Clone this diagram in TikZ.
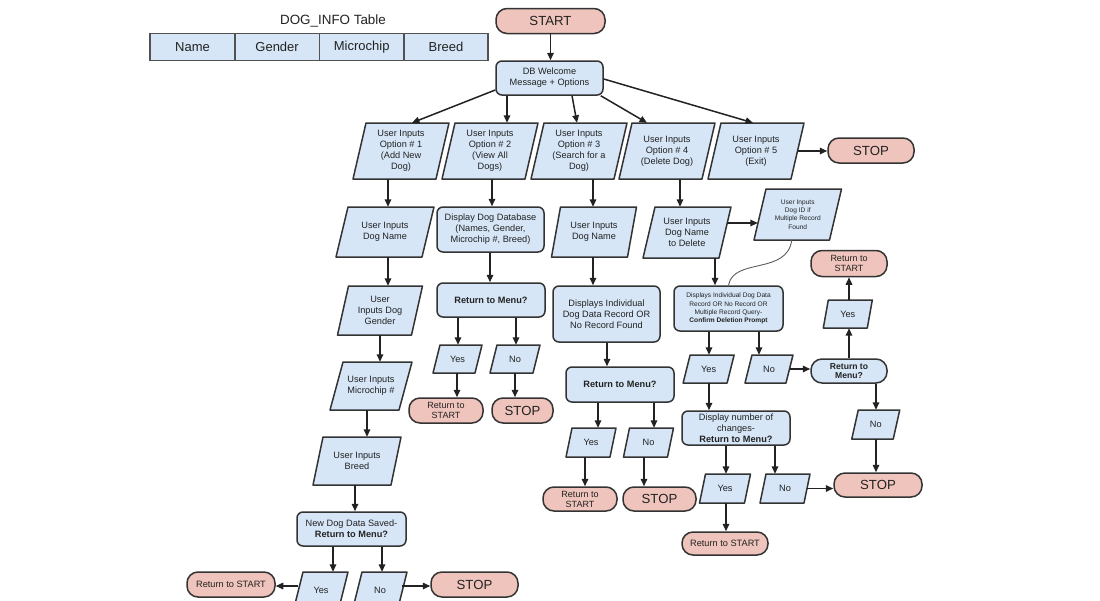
\documentclass[tikz,border=0pt]{standalone}
\usepackage{fontspec}
\setmainfont{Liberation Sans}
\usetikzlibrary{arrows.meta,calc}
\definecolor{boxblue}{HTML}{D6E6F7}
\definecolor{termred}{HTML}{EFC4BC}
\definecolor{edgec}{HTML}{333333}
\definecolor{txt}{HTML}{222222}
\newcommand\pgram[8]{%
  \draw[pshape] ({#2-#4/2-#6/2},{#3+#5/2}) -- ({#2+#4/2-#6/2},{#3+#5/2})
    -- ({#2+#4/2+#6/2},{#3-#5/2}) -- ({#2-#4/2+#6/2},{#3-#5/2}) -- cycle;
  \node[sz={#4}{#5},#7] (#1) at (#2,#3) {#8};}
\begin{document}
\begin{tikzpicture}[x=1pt,y=-1pt,
  every node/.style={font=\fontsize{9.2}{11}\selectfont, text=txt, align=center, inner sep=0pt},
  sz/.style 2 args={minimum width=#1pt,minimum height=#2pt},
  proc/.style={draw=edgec, fill=boxblue, line width=1.5pt, rounded corners=6pt},
  term/.style={draw=edgec, fill=termred, line width=1.5pt, rounded corners=11pt},
  bterm/.style={draw=edgec, fill=boxblue, line width=1.5pt, rounded corners=11pt},
  pshape/.style={draw=edgec, fill=boxblue, line width=1.5pt, line join=round},
  cell/.style={draw=edgec!85, fill=boxblue, line width=1.1pt, font=\fontsize{13}{15}\selectfont},
  big/.style={font=\fontsize{13.2}{15}\selectfont},
  two/.style={font=\fontsize{9}{10}\selectfont},
  small/.style={font=\fontsize{6.6}{8.3}\selectfont},
  arr/.style={draw=txt, line width=1.5pt, -{Triangle[length=7.5pt,width=6.5pt]}},
  link/.style={draw=edgec!80, line width=0.9pt}
]
\useasboundingbox (0,0) rectangle (1100,600);
\clip (0,0) rectangle (1100,600);

% ---- table ----
\node[font=\fontsize{13.4}{15}\selectfont] (ttitle) at (333,21) {DOG\_INFO Table};
\node[cell, sz={85}{26.7}] (cname) at (192.5,46.7) {Name};
\node[cell, sz={84.3}{26.7}] (cgender) at (277.1,46.7) {Gender};
\node[cell, sz={84.7}{26.7}] (cchip) at (361.7,46.7) {Microchip};
\node[cell, sz={84}{26.7}] (cbreed) at (446,46.7) {Breed};

% ---- top ----
\node[term, big, sz={109}{25}] (start) at (550.5,21) {START};
\node[proc, sz={107}{34}] (db) at (549.5,78) {DB Welcome\\Message + Options};

\pgram{opt1}{401}{151}{83}{56}{13}{}{User Inputs\\Option \# 1\\(Add New\\Dog)}
\pgram{opt2}{490}{151}{83}{56}{13}{}{User Inputs\\Option \# 2\\(View All\\Dogs)}
\pgram{opt3}{579}{151}{83}{56}{13}{}{User Inputs\\Option \# 3\\(Search for a\\Dog)}
\pgram{opt4}{667}{151}{83}{56}{13}{}{User Inputs\\Option \# 4\\(Delete Dog)}
\pgram{opt5}{756}{151}{83}{56}{13}{}{User Inputs\\Option \# 5\\(Exit)}
\node[term, big, sz={86}{25}] (stopA) at (871,150.5) {STOP};

% ---- column 1 ----
\pgram{name1}{385}{232}{86}{50}{12}{}{User Inputs\\Dog Name}
\pgram{gender1}{380}{310.5}{74}{49}{11}{}{User\\Inputs Dog\\Gender}
\pgram{chip1}{371}{386}{69}{48}{13}{}{User Inputs\\Microchip \#}
\pgram{breed1}{357}{461}{78}{48}{10}{}{User Inputs\\Breed}
\node[proc, sz={109}{34}] (saved1) at (351.5,529) {New Dog Data Saved-\\\textbf{Return to Menu?}};
\pgram{yes1}{321}{590}{45}{36}{9}{}{Yes}
\pgram{no1}{380}{590}{45}{36}{9}{}{No}
\node[term, sz={88}{25}] (rts1) at (231,584.5) {Return to START};
\node[term, big, sz={87}{25}] (stopB) at (474.5,584.5) {STOP};

% ---- column 2 ----
\node[proc, sz={107}{45}] (disp2) at (490.5,229.5) {Display Dog Database\\(Names, Gender,\\Microchip \#, Breed)};
\node[proc, sz={108}{34}] (rtm2) at (491,300) {\textbf{Return to Menu?}};
\pgram{yes2}{457.5}{359}{42}{28}{7}{}{Yes}
\pgram{no2}{515}{359}{43}{28}{7}{}{No}
\node[term, two, sz={74}{25}] (rts2) at (446,410.5) {Return to\\START};
\node[term, big, sz={61}{25}] (stopC) at (522.5,410.5) {STOP};

% ---- column 3 ----
\pgram{name3}{594}{232}{76}{50}{9}{}{User Inputs\\Dog Name}
\node[proc, sz={107}{56}] (disp3) at (606.5,314) {Displays Individual\\Dog Data Record OR\\No Record Found};
\node[proc, sz={108}{35}] (rtm3) at (620,384.5) {\textbf{Return to Menu?}};
\pgram{yes3}{591}{442.5}{44}{29}{6}{}{Yes}
\pgram{no3}{648.5}{442.5}{44}{29}{6}{}{No}
\node[term, two, sz={74}{24}] (rts3) at (580,499) {Return to\\START};
\node[term, big, sz={73}{24}] (stopD) at (659.5,499) {STOP};

% ---- column 4 ----
\pgram{dnd4}{687}{232.5}{76}{51}{12}{}{User Inputs\\Dog Name\\to Delete}
\pgram{dogid4}{797.75}{214.5}{75.5}{51}{12}{small}{User Inputs\\Dog ID if\\Multiple Record\\Found}
\node[proc, small, sz={109}{45}] (disp4) at (728.5,308.5) {Displays Individual Dog Data\\Record OR No Record OR\\Multiple Record Query-\\\textbf{Confirm Deletion Prompt}};
\pgram{yes4a}{708.6}{369}{44}{28}{7}{}{Yes}
\pgram{no4a}{769}{369}{41}{28}{7}{}{No}
\node[proc, sz={108}{34}] (chg4) at (736,428) {Display number of\\changes-\\\textbf{Return to Menu?}};
\pgram{yes4b}{725}{488.5}{45}{29}{6}{}{Yes}
\pgram{no4b}{785}{488.5}{44}{29}{6}{}{No}
\node[term, sz={86}{23}] (rts4b) at (725,543.5) {Return to START};
\node[term, big, sz={88}{24}] (stopE) at (878,485) {STOP};
\node[bterm, font=\fontsize{8.6}{9.8}\selectfont\bfseries, sz={76}{24}] (rtm4) at (849,371) {Return to\\Menu?};
\pgram{no4r}{875.75}{424.5}{41.5}{29}{6.5}{}{No}
\pgram{yes4r}{847.8}{314}{44}{28}{5}{}{Yes}
\node[term, two, sz={76}{26}] (rts4r) at (849,263.5) {Return to\\START};

% ---- connectors: top ----
\draw[arr] (start.south) -- (start.south |- db.north);
\draw[arr] ([shift={(0,12)}]db.west) -- ([shift={(11,0)}]opt1.north);
\draw[arr] ([shift={(-42.5,0)}]db.south) -- ([shift={(17,0)}]opt2.north);
\draw[arr] ([shift={(22.5,0)}]db.south) -- ([shift={(-2,0)}]opt3.north);
\draw[arr] ([shift={(-3,0)}]db.south east) -- ([shift={(-20,0)}]opt4.north);
\draw[arr] ([shift={(0,1)}]db.east) -- ([shift={(-3,0)}]opt5.north);
\draw[arr] (opt5.east) -- (opt5.east -| stopA.west);

% ---- column 1 ----
\draw[arr] (opt1.south -| 388,0) -- (name1.north -| 388,0);
\draw[arr] (name1.south -| 388,0) -- (gender1.north -| 388,0);
\draw[arr] (gender1.south -| 380,0) -- (chip1.north -| 380,0);
\draw[arr] (chip1.south -| 367,0) -- (breed1.north -| 367,0);
\draw[arr] (breed1.south -| 355,0) -- (saved1.north -| 355,0);
\draw[arr] (saved1.south -| 333,0) -- (yes1.north -| 333,0);
\draw[arr] (saved1.south -| 382,0) -- (no1.north -| 382,0);
\draw[arr] ([yshift=4pt]yes1.west) -- ([yshift=4pt]yes1.west -| rts1.east);
\draw[arr] ([shift={(-1,-4)}]no1.east) -- ([yshift=4pt]no1.east -| stopB.west);

% ---- column 2 ----
\draw[arr] (opt2.south -| 492,0) -- (disp2.north -| 492,0);
\draw[arr] (disp2.south -| 490,0) -- (rtm2.north -| 490,0);
\draw[arr] (rtm2.south -| 458,0) -- (yes2.north -| 458,0);
\draw[arr] (rtm2.south -| 516,0) -- (no2.north -| 516,0);
\draw[arr] (yes2.south -| 457,0) -- (rts2.north -| 457,0);
\draw[arr] (no2.south -| 515,0) -- (stopC.north -| 515,0);

% ---- column 3 ----
\draw[arr] (opt3.south -| 593,0) -- (name3.north -| 593,0);
\draw[arr] (name3.south -| 593,0) -- (disp3.north -| 593,0);
\draw[arr] (disp3.south -| 607,0) -- (rtm3.north -| 607,0);
\draw[arr] (rtm3.south -| 598,0) -- (yes3.north -| 598,0);
\draw[arr] (rtm3.south -| 654,0) -- (no3.north -| 654,0);
\draw[arr] (yes3.south -| 585,0) -- (rts3.north -| 585,0);
\draw[arr] (no3.south -| 644,0) -- (stopD.north -| 644,0);

% ---- column 4 ----
\draw[arr] (opt4.south -| 680,0) -- (dnd4.north -| 680,0);
\draw[arr] ([shift={(2.2,-9.5)}]dnd4.east) -- ([shift={(-2,8.5)}]dogid4.west);
\draw[arr] (dnd4.south -| 715,0) -- (disp4.north -| 715,0);
\draw[link] ([xshift=-6pt]dogid4.south) .. controls +(-5,35) and +(5,-28) .. (disp4.north);
\draw[arr] (disp4.south -| 709,0) -- (yes4a.north -| 709,0);
\draw[arr] (disp4.south -| 759,0) -- (no4a.north -| 759,0);
\draw[arr] (yes4a.south -| 709,0) -- (chg4.north -| 709,0);
\draw[arr] (no4a.east) -- (no4a.east -| rtm4.west);
\draw[arr] (chg4.south -| 726,0) -- (yes4b.north -| 726,0);
\draw[arr] (chg4.south -| 775,0) -- (no4b.north -| 775,0);
\draw[arr] (yes4b.south -| 726,0) -- (rts4b.north -| 726,0);
\draw[arr] (no4b.east) -- (no4b.east -| stopE.west);
\draw[arr] (rtm4.south -| 876,0) -- (no4r.north -| 876,0);
\draw[arr] (no4r.south -| 876,0) -- (stopE.north -| 876,0);
\draw[arr] (rtm4.north -| 849,0) -- (yes4r.south -| 849,0);
\draw[arr] (yes4r.north -| 849,0) -- (rts4r.south -| 849,0);
\end{tikzpicture}
\end{document}
